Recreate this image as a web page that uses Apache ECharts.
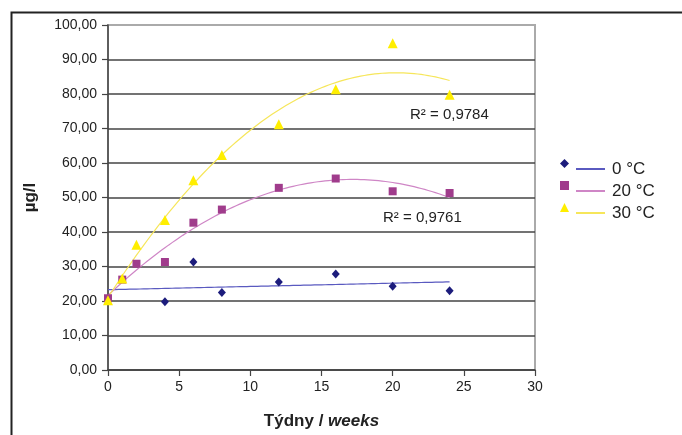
<!DOCTYPE html>
<html><head><meta charset="utf-8">
<script src="https://cdn.jsdelivr.net/npm/echarts@6/dist/echarts.min.js"></script>
<style>html,body{margin:0;padding:0;background:#fff}#c{width:682px;height:435px}</style>
</head><body><div id="c"></div>
<script>
// ---- data ----
const seriesNames = ['0 °C', '20 °C', '30 °C'];
const weeks0 = [0, 4, 6, 8, 12, 16, 20, 24];
const vals0 = [20.5, 19.8, 31.3, 22.5, 25.5, 27.8, 24.3, 23.0];
const weeks20 = [0, 1, 2, 4, 6, 8, 12, 16, 20, 24];
const vals20 = [20.8, 26.2, 30.8, 31.3, 42.7, 46.5, 52.8, 55.5, 51.8, 51.3];
const weeks30 = [0, 1, 2, 4, 6, 8, 12, 16, 20, 24];
const vals30 = [20.2, 26.5, 36.3, 43.5, 55.0, 62.3, 71.2, 81.4, 94.7, 79.8];
const trendDegrees = [1, 2, 2];
const r2Labels = ['R² = 0,9784', 'R² = 0,9761'];
const xAxisTitleA = 'Týdny / ';
const xAxisTitleB = 'weeks';
const yAxisTitle = 'µg/l';

// least-squares polynomial fit (like a spreadsheet trendline)
function polyfit(xs, ys, deg) {
  const n = deg + 1;
  const A = [];
  for (let i = 0; i < n; i++) {
    A.push([]);
    for (let j = 0; j < n; j++) {
      let s = 0; xs.forEach(x => s += Math.pow(x, i + j)); A[i].push(s);
    }
    let t = 0; xs.forEach((x, k) => t += Math.pow(x, i) * ys[k]); A[i].push(t);
  }
  for (let c = 0; c < n; c++) {
    let p = c;
    for (let r = c + 1; r < n; r++) if (Math.abs(A[r][c]) > Math.abs(A[p][c])) p = r;
    [A[c], A[p]] = [A[p], A[c]];
    for (let r = 0; r < n; r++) {
      if (r === c) continue;
      const f = A[r][c] / A[c][c];
      for (let k = c; k <= n; k++) A[r][k] -= f * A[c][k];
    }
  }
  return A.map((row, i) => row[n] / row[i]);
}
function trend(xs, ys, deg) {
  const co = polyfit(xs, ys, deg);
  const x0 = Math.min(...xs), x1 = Math.max(...xs);
  const out = [];
  const steps = 96;
  for (let i = 0; i <= steps; i++) {
    const x = x0 + (x1 - x0) * i / steps;
    let y = 0; co.forEach((c, k) => y += c * Math.pow(x, k));
    out.push([x, y]);
  }
  return out;
}

const xsAll = [weeks0, weeks20, weeks30];
const ysAll = [vals0, vals20, vals30];
const markerColors = ['#1c1c7c', '#a03c8c', '#ffee00'];
const lineColors = ['#5a5ac0', '#cf86c6', '#f6e65a'];
const symbols = ['diamond', 'rect', 'triangle'];
const symbolSizes = [[8, 9], 8, 10];
const FONT = '"Liberation Sans", Arial, sans-serif';

const series = [];
seriesNames.forEach((nm, i) => {
  series.push({
    name: nm + ' trend', type: 'line', showSymbol: false, symbol: 'none',
    data: trend(xsAll[i], ysAll[i], trendDegrees[i]),
    lineStyle: { color: lineColors[i], width: 1.2 }, itemStyle: { color: lineColors[i] },
    silent: true, z: 2, animation: false
  });
});
seriesNames.forEach((nm, i) => {
  series.push({
    name: nm, type: 'scatter', symbol: symbols[i], symbolSize: symbolSizes[i],
    data: xsAll[i].map((x, k) => [x, ysAll[i][k]]),
    itemStyle: { color: markerColors[i], opacity: 1 }, z: 3, animation: false
  });
});

const chart = echarts.init(document.getElementById('c'), null, { renderer: 'canvas' });
const gridColors = ['#444', '#444', '#444', '#444', '#444', '#444', '#444', '#444', '#444', '#444', '#aaa'];
chart.setOption({
  animation: false,
  backgroundColor: '#fff',
  textStyle: { fontFamily: FONT },
  grid: { left: 108, right: 147, top: 25, bottom: 65, show: true, borderColor: '#aaa', borderWidth: 2, backgroundColor: 'transparent' },
  xAxis: {
    type: 'value', min: 0, max: 30, interval: 5,
    axisLine: { show: true, onZero: false, lineStyle: { color: '#444', width: 1.5 } },
    axisTick: { show: true, length: 6, lineStyle: { color: '#444', width: 1.2 } },
    axisLabel: { color: '#222', fontSize: 14, margin: 10, fontFamily: FONT },
    splitLine: { show: false },
    name: '{a|' + xAxisTitleA + '}{b|' + xAxisTitleB + '}', nameLocation: 'middle', nameGap: 43,
    nameTextStyle: { rich: {
      a: { fontSize: 17, fontWeight: 'bold', color: '#222', fontFamily: FONT },
      b: { fontSize: 17, fontWeight: 'bold', fontStyle: 'italic', color: '#222', fontFamily: FONT }
    } }
  },
  yAxis: {
    type: 'value', min: 0, max: 100, interval: 10,
    axisLine: { show: true, onZero: false, lineStyle: { color: '#444', width: 1.5 } },
    axisTick: { show: true, length: 6, lineStyle: { color: '#444', width: 1.2 } },
    axisLabel: { color: '#222', fontSize: 14, margin: 11, fontFamily: FONT, formatter: v => v.toFixed(2).replace('.', ',') },
    splitLine: { show: true, lineStyle: { color: gridColors, width: 1.6 } },
    name: yAxisTitle, nameLocation: 'middle', nameGap: 69, nameRotate: 90,
    nameTextStyle: { fontSize: 17, fontWeight: 'bold', color: '#222', fontFamily: FONT }
  },
  legend: [
    {
      data: seriesNames, orient: 'vertical', left: 555, top: 154,
      itemWidth: 9, itemHeight: 9, itemGap: 13, formatter: () => '',
      selectedMode: false, textStyle: { fontSize: 17 }
    },
    {
      data: seriesNames.map(n => n + ' trend'), orient: 'vertical', left: 571, top: 153,
      icon: 'rect', itemWidth: 29, itemHeight: 2, itemGap: 0,
      formatter: n => n.replace(' trend', ''), selectedMode: false,
      textStyle: { fontSize: 17, lineHeight: 22, color: '#222', fontFamily: FONT, padding: [0, 0, 0, 2] }
    }
  ],
  graphic: [
    { type: 'rect', left: 9, top: 10, shape: { width: 720, height: 460 }, style: { fill: 'none', stroke: '#222', lineWidth: 2 }, silent: true },
    { type: 'text', left: 410, top: 107, style: { text: r2Labels[0], fontSize: 15, fill: '#222', fontFamily: FONT } },
    { type: 'text', left: 383, top: 210, style: { text: r2Labels[1], fontSize: 15, fill: '#222', fontFamily: FONT } }
  ],
  series: series
});
</script>
</body></html>
